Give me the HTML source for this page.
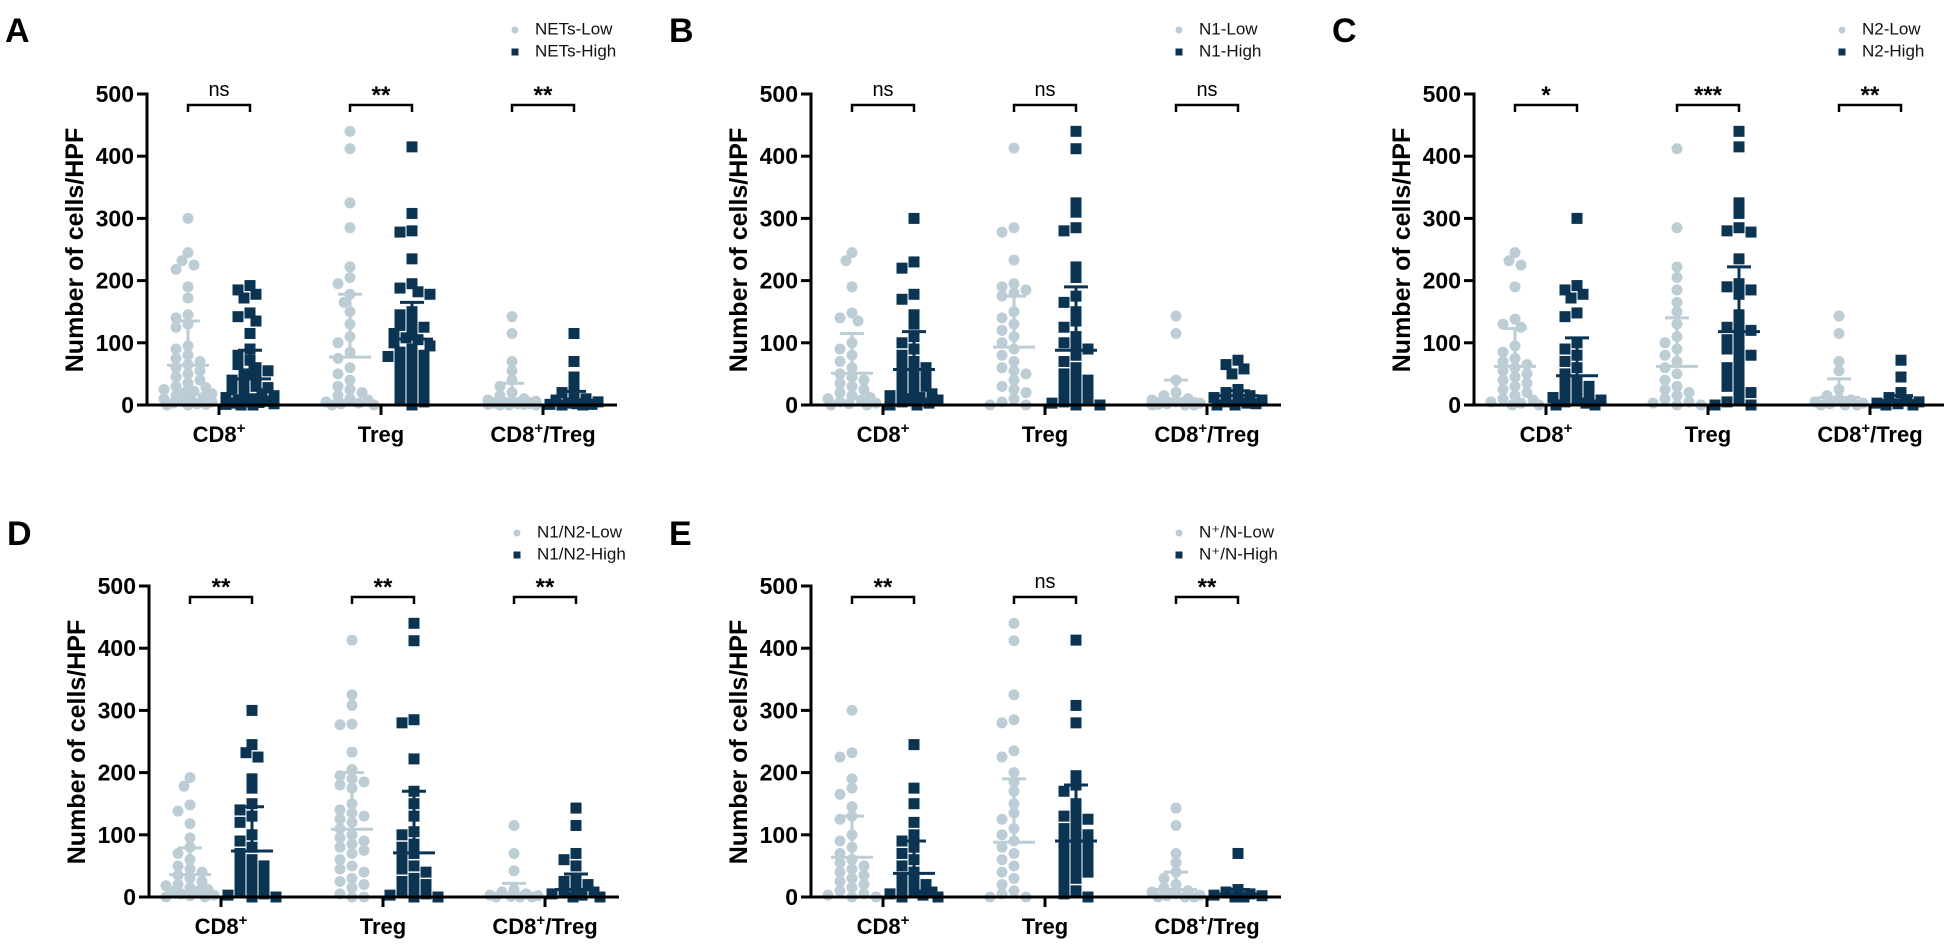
<!DOCTYPE html>
<html><head><meta charset="utf-8"><style>
html,body{margin:0;padding:0;background:#fff;}
svg{display:block;font-family:"Liberation Sans",Arial,sans-serif;}
</style></head><body>
<svg id="fig" width="1948" height="944" viewBox="0 0 1948 944" xmlns="http://www.w3.org/2000/svg"></svg>
<script>
const categories = ["CD8+", "Treg", "CD8+/Treg"];
const yTicks = [0, 100, 200, 300, 400, 500];
const panelLetters = ["A", "B", "C", "D", "E"];
const legendLow = ["NETs-Low", "N1-Low", "N2-Low", "N1/N2-Low", "N\u207A/N-Low"];
const legendHigh = ["NETs-High", "N1-High", "N2-High", "N1/N2-High", "N\u207A/N-High"];
const sigA = ["ns", "**", "**"];
const sigB = ["ns", "ns", "ns"];
const sigC = ["*", "***", "**"];
const sigD = ["**", "**", "**"];
const sigE = ["**", "ns", "**"];
// low / high raw values per category
const lowA = [[300,245,232,225,218,190,172,145,140,130,125,95,90,80,75,70,65,60,55,50,45,40,35,30,28,25,22,20,18,15,12,10,8,6,5,3,2,1,0,0],[440,412,325,285,222,205,195,178,165,150,130,110,100,85,75,60,50,40,30,25,20,15,10,8,5,3,2,0,0],[142,115,70,55,40,30,20,15,10,8,6,5,4,3,2,2,1,1,0,0,0]];
const highA = [[192,185,178,172,148,142,135,115,90,80,72,65,60,55,50,45,40,35,30,28,25,20,18,15,12,10,8,6,5,4,3,2,1,0,0],[415,308,280,278,235,195,188,182,178,150,145,135,128,125,120,115,108,105,100,95,90,85,80,78,75,70,65,60,55,50,45,40,35,30,25,20,15,10,5,0],[115,70,45,30,20,15,10,8,5,3,2,1,1,0,0]];
const lowB = [[245,232,190,148,140,135,100,90,80,70,60,50,45,40,35,30,25,20,15,12,10,8,5,3,2,0,0],[413,285,278,233,195,190,185,180,175,150,140,130,120,110,100,90,80,70,60,55,50,40,30,25,20,10,5,0,0],[143,115,40,20,15,10,8,5,3,2,1,0,0,0]];
const highB = [[300,230,220,178,170,145,130,110,100,90,80,70,65,60,55,50,45,40,35,30,25,20,18,15,12,10,8,5,3,0,0],[440,412,325,310,285,280,222,205,175,165,150,135,125,110,100,95,90,80,70,60,50,45,40,35,30,25,20,15,10,5,3,0,0],[72,65,58,50,25,20,15,12,10,8,5,3,2,0,0]];
const lowC = [[245,232,225,190,138,130,125,95,85,75,70,65,60,55,50,45,40,35,30,25,20,15,10,8,5,3,0,0],[412,285,222,205,185,165,150,130,110,100,90,80,70,60,50,40,30,25,20,15,10,5,3,0,0],[143,115,70,55,25,15,10,8,5,3,2,0,0,0]];
const highC = [[300,192,185,178,172,148,142,100,90,80,70,60,50,40,35,30,25,20,15,12,10,8,5,3,0,0],[440,415,325,308,285,280,278,235,195,190,185,178,145,130,125,120,115,105,100,90,85,80,70,60,55,45,40,30,25,20,10,5,0,0],[72,45,20,12,8,5,3,2,0,0]];
const lowD = [[192,178,148,138,118,95,80,70,60,50,45,40,35,30,25,20,18,15,12,10,8,5,3,2,0,0],[413,325,308,278,277,233,205,195,190,185,180,175,150,140,135,130,125,120,110,100,95,90,85,80,75,70,60,50,45,40,30,25,20,15,5,0,0],[115,70,42,12,8,5,3,2,1,0,0,0]];
const highD = [[300,245,232,225,190,175,150,140,130,120,100,90,80,70,60,55,50,45,40,35,30,25,20,15,10,5,3,0,0],[440,412,285,280,222,170,150,130,105,100,85,80,70,60,50,45,40,30,25,20,15,10,5,3,0,0],[143,115,70,60,50,30,25,20,15,10,8,5,3,0,0]];
const lowE = [[300,232,225,190,175,165,145,130,125,100,90,80,70,60,55,50,45,40,35,30,25,20,15,10,5,3,0,0],[440,412,325,285,280,235,225,200,185,170,150,135,125,110,100,90,80,70,60,50,40,30,20,10,5,0,0],[143,115,70,55,40,30,20,15,10,8,5,3,2,0,0,0]];
const highE = [[245,175,150,120,100,90,80,70,60,50,40,30,25,20,15,10,8,5,3,0,0],[413,308,280,195,180,170,150,135,130,125,120,110,105,100,95,90,85,80,75,70,65,60,55,50,45,40,35,30,20,10,5,0],[70,12,8,5,3,2,0,0]];
// means and SD (upper bar end) per category
const meanLowA = [64,77,10], sdTopLowA = [135,178,35];
const meanHighA = [42,106,5], sdTopHighA = [88,165,22];
const meanLowB = [51,93,10], sdTopLowB = [115,175,40];
const meanHighB = [57,88,15], sdTopHighB = [118,190,23];
const meanLowC = [62,62,12], sdTopLowC = [123,140,42];
const meanHighC = [47,118,7], sdTopHighC = [108,222,15];
const meanLowD = [36,109,5], sdTopLowD = [79,200,22];
const meanHighD = [74,71,12], sdTopHighD = [145,170,37];
const meanLowE = [64,88,12], sdTopLowE = [130,190,40];
const meanHighE = [38,90,5], sdTopHighE = [90,180,12];

const panels = [
 {ax:147,y0:405,legY:30,low:lowA,high:highA,sig:sigA,mL:meanLowA,sL:sdTopLowA,mH:meanHighA,sH:sdTopHighA},
 {ax:811,y0:405,legY:30,low:lowB,high:highB,sig:sigB,mL:meanLowB,sL:sdTopLowB,mH:meanHighB,sH:sdTopHighB},
 {ax:1474,y0:405,legY:30,low:lowC,high:highC,sig:sigC,mL:meanLowC,sL:sdTopLowC,mH:meanHighC,sH:sdTopHighC},
 {ax:149,y0:897,legY:533,low:lowD,high:highD,sig:sigD,mL:meanLowD,sL:sdTopLowD,mH:meanHighD,sH:sdTopHighD},
 {ax:811,y0:897,legY:533,low:lowE,high:highE,sig:sigE,mL:meanLowE,sL:sdTopLowE,mH:meanHighE,sH:sdTopHighE}
];
const LOW="#bccdd6", HIGH="#0b3352";
const NS="http://www.w3.org/2000/svg";
const svg=document.getElementById('fig');
function mk(tag,attrs,parent){const e=document.createElementNS(NS,tag);for(const k in attrs)e.setAttribute(k,attrs[k]);(parent||svg).appendChild(e);return e;}
const K=311/500;
const OFFS=[0,-6,6,-12,12,-18,18,-24,24,-3,3,-9,9,-15,15,-21,21];
function swarm(vals,cx,yf,d){
  const placed=[];
  const sorted=vals.slice().sort((a,b)=>b-a);
  for(const v of sorted){const y=yf(v);let best=cx,bestD=-1;
    for(const o of OFFS){const tx=cx+o;
      let md=Infinity;placed.forEach(p=>{md=Math.min(md,Math.hypot(p[0]-tx,p[1]-y));});
      if(md>=d*0.8){best=tx;bestD=md;break;}
      if(md>bestD){bestD=md;best=tx;}}
    placed.push([best,y]);}
  return placed;
}
panels.forEach((P,pi)=>{
  const g=mk('g',{});
  
  
  const yf=v=>P.y0-v*K;
  const cx=i=>P.ax+72+162*i;
  const L=mk('text',{x:P.ax-142,y:P.legY+3,'font-size':34,'font-weight':'bold',fill:'#000','dominant-baseline':'middle'},g);
  L.textContent=panelLetters[pi];
  
  const lg=mk('g',{},g);
  mk('circle',{cx:P.ax+368,cy:P.legY,r:3.5,fill:LOW},lg);
  mk('rect',{x:P.ax+364.5,y:P.legY+22-3.5,width:7,height:7,fill:HIGH},lg);
  const t1=mk('text',{x:P.ax+388,y:P.legY,'font-size':17,fill:'#111','dominant-baseline':'middle'},lg);t1.textContent=legendLow[pi];
  
  const t2=mk('text',{x:P.ax+388,y:P.legY+22,'font-size':17,fill:'#111','dominant-baseline':'middle'},lg);t2.textContent=legendHigh[pi];
  
  categories.forEach((c,i)=>{
    const xl=cx(i)-31, xh=cx(i)+31;
    swarm(P.low[i],xl,yf,11).forEach(p=>{const e=mk('circle',{cx:p[0],cy:p[1],r:5.5,fill:LOW},g);
      });
    swarm(P.high[i],xh,yf,11).forEach(p=>{const e=mk('rect',{x:p[0]-5.5,y:p[1]-5.5,width:11,height:11,fill:HIGH},g);
      });
    [[xl,P.mL[i],P.sL[i],LOW],[xh,P.mH[i],P.sH[i],HIGH]].forEach(a=>{
      const eb=mk('g',{stroke:a[3],'stroke-width':3},g);
      
      mk('line',{x1:a[0]-21,x2:a[0]+21,y1:yf(a[1]),y2:yf(a[1])},eb);
      mk('line',{x1:a[0],x2:a[0],y1:yf(a[1]),y2:yf(a[2])},eb);
      mk('line',{x1:a[0]-12,x2:a[0]+12,y1:yf(a[2]),y2:yf(a[2])},eb);
    });
    const by=yf(500)+11;
    const br=mk('path',{d:`M${xl},${by+7}V${by}H${xh}V${by+7}`,fill:'none',stroke:'#000','stroke-width':2.5},g);
    
    const st=mk('text',{x:(xl+xh)/2,y:P.sig[i]==='ns'?by-9:by-2,'text-anchor':'middle','font-size':P.sig[i]==='ns'?20:24,'font-weight':P.sig[i]==='ns'?'normal':'bold',fill:'#000'},g);
    st.textContent=P.sig[i];
    mk('line',{x1:cx(i),x2:cx(i),y1:P.y0,y2:P.y0+10,stroke:'#000','stroke-width':3},g);
    const xt=mk('text',{x:cx(i),y:P.y0+37,'text-anchor':'middle','font-size':22,'font-weight':'bold',fill:'#000'},g);
    
    if(c==='CD8+'){xt.innerHTML='CD8<tspan dy="-9" font-size="15">+</tspan>';}
    else if(c==='CD8+/Treg'){xt.innerHTML='CD8<tspan dy="-9" font-size="15">+</tspan><tspan dy="9">/Treg</tspan>';}
    else xt.textContent=c;
  });
  const ax=mk('g',{stroke:'#000','stroke-width':3},g);
  
  mk('line',{x1:P.ax,x2:P.ax,y1:yf(500)-1.5,y2:P.y0+1.5},ax);
  mk('line',{x1:P.ax,x2:P.ax+470,y1:P.y0,y2:P.y0},ax);
  yTicks.forEach(t=>{
    mk('line',{x1:P.ax-10,x2:P.ax,y1:yf(t),y2:yf(t)},ax);
    const tl=mk('text',{x:P.ax-13,y:yf(t)+8,'text-anchor':'end','font-size':23,'font-weight':'bold',fill:'#000'},g);
    tl.textContent=t;
  });
  const yt=mk('text',{x:0,y:0,'text-anchor':'middle','font-size':25,'font-weight':'bold',fill:'#000',transform:`translate(${P.ax-64},${P.y0-155}) rotate(-90)`},g);
  yt.textContent='Number of cells/HPF';
});
</script>
</body></html>
